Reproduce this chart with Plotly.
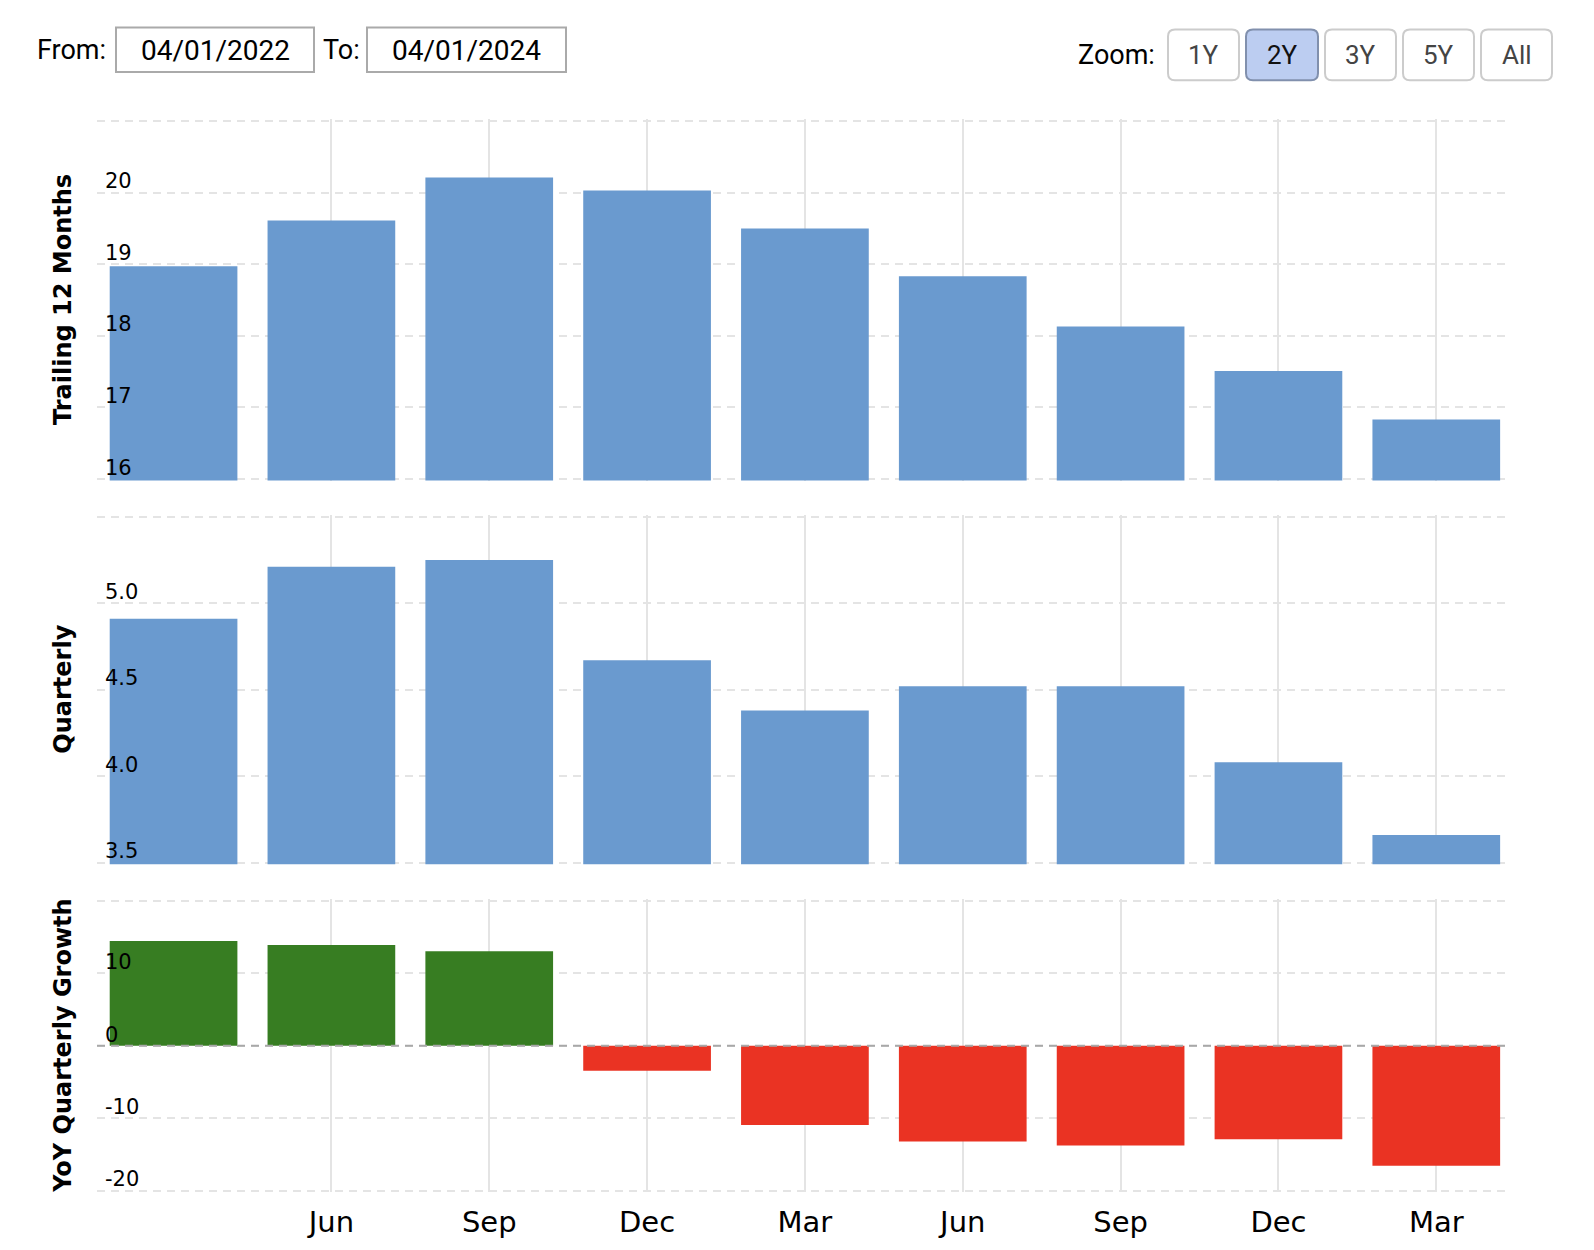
import plotly.graph_objects as go
from plotly.subplots import make_subplots

# ---------------- data ----------------
quarters = ["2022-03-31", "2022-06-30", "2022-09-30", "2022-12-31", "2023-03-31",
            "2023-06-30", "2023-09-30", "2023-12-31", "2024-03-31"]
month_labels = ["Mar", "Jun", "Sep", "Dec", "Mar", "Jun", "Sep", "Dec", "Mar"]
ttm = [18.97, 19.61, 20.21, 20.03, 19.50, 18.83, 18.13, 17.51, 16.83]
quarterly = [4.91, 5.21, 5.25, 4.67, 4.38, 4.52, 4.52, 4.08, 3.66]
yoy = [14.49, 13.93, 13.07, -3.44, -10.93, -13.19, -13.75, -12.90, -16.57]

ttm_ticks = [16, 17, 18, 19, 20, 21]
ttm_ticktext = ["16", "17", "18", "19", "20", ""]
q_ticks = [3.5, 4.0, 4.5, 5.0, 5.5]
q_ticktext = ["3.5", "4.0", "4.5", "5.0", ""]
yoy_ticks = [-20, -10, 0, 10, 20]
yoy_ticktext = ["-20", "-10", "0", "10", ""]

panel_titles = ["Trailing 12 Months", "Quarterly", "YoY Quarterly Growth"]
from_date = "04/01/2022"
to_date = "04/01/2024"
zoom_buttons = ["1Y", "2Y", "3Y", "5Y", "All"]
active_button = "2Y"

# ---------------- style ----------------
W, H = 1594, 1250
L, R, T, B = 97, 87, 119, 57
BLUE = "#6a9acf"
GREEN = "#377d22"
RED = "#ea3323"
GRID = "#e4e4e4"
TICKFONT = dict(family="DejaVu Sans, Verdana, sans-serif", size=21, color="#000")
XFONT = dict(family="DejaVu Sans, Verdana, sans-serif", size=29, color="#000")

PW, PH = W - L - R, H - T - B
EXT = 1.6  # px added at each end so edge gridlines are kept


def px(x):
    return (x - L) / PW


def py(y):
    return (H - B - y) / PH


fig = make_subplots(rows=3, cols=1, shared_xaxes=True)

fig.add_trace(go.Bar(x=quarters, y=ttm, marker=dict(color=BLUE, line=dict(width=0)),
                     hoverinfo="x+y"), row=1, col=1)
fig.add_trace(go.Bar(x=quarters, y=quarterly, marker=dict(color=BLUE, line=dict(width=0)),
                     hoverinfo="x+y"), row=2, col=1)
fig.add_trace(go.Bar(x=quarters, y=yoy,
                     marker=dict(color=[GREEN if v >= 0 else RED for v in yoy], line=dict(width=0)),
                     hoverinfo="x+y"), row=3, col=1)

# pixel extents of each panel (top, bottom) and value ranges
pix = [(121.0, 479.0), (516.7, 862.7), (901.0, 1190.7)]
vals = [(16, 21), (3.5, 5.5), (-20, 20)]
ticks = [(ttm_ticks, ttm_ticktext), (q_ticks, q_ticktext), (yoy_ticks, yoy_ticktext)]

for i in range(3):
    yname = "yaxis" if i == 0 else f"yaxis{i+1}"
    xname = "xaxis" if i == 0 else f"xaxis{i+1}"
    top, bot = pix[i]
    lo, hi = vals[i]
    upp = (hi - lo) / (bot - top)  # units per pixel
    fig.layout[yname].update(
        domain=[max(0.0, py(bot + EXT)), min(1.0, py(top - EXT))],
        range=[lo - EXT * upp, hi + EXT * upp],
        tickvals=ticks[i][0], ticktext=ticks[i][1],
        showgrid=True, gridcolor=GRID, gridwidth=2, griddash="8px,6px",
        zeroline=False, showline=False, ticks="",
        ticklabelposition="inside top", ticklabelstandoff=5, ticklabelshift=3,
        tickfont=TICKFONT, fixedrange=True,
    )
    fig.layout[xname].update(
        type="category", range=[-0.485, 8.448],
        tickvals=quarters[1:], ticktext=month_labels[1:],
        showgrid=True, gridcolor=GRID, gridwidth=2,
        zeroline=False, showline=False, ticks="",
        showticklabels=(i == 2), tickfont=XFONT, ticklabelstandoff=10,
        fixedrange=True,
    )

# zero line of the growth panel
fig.add_shape(type="line", xref="x3 domain", yref="y3", x0=0, x1=1, y0=0, y1=0,
              line=dict(color="#a8a8a8", width=2, dash="8px,6px"), layer="above")

# panel titles
for t, (top, bot) in zip(panel_titles, pix):
    fig.add_annotation(text=f"<b>{t}</b>", xref="paper", yref="paper", x=px(63), y=py((top + bot) / 2),
                       xanchor="center", yanchor="middle", textangle=-90, showarrow=False,
                       font=dict(family="DejaVu Sans, Verdana, sans-serif", size=24, color="#000"))

# ---- header: date range inputs ----
HFONT = dict(family="Roboto, sans-serif", size=27, color="#000")
DFONT = dict(family="Roboto, sans-serif", size=28, color="#000")
fig.add_annotation(text="From:", xref="paper", yref="paper", x=px(35), y=py(50),
                   xanchor="left", yanchor="middle", showarrow=False, font=HFONT)
fig.add_annotation(text="To:", xref="paper", yref="paper", x=px(321), y=py(50),
                   xanchor="left", yanchor="middle", showarrow=False, font=HFONT)
for (x0, x1), txt in [((116, 314), from_date), ((367, 566), to_date)]:
    fig.add_shape(type="rect", xref="paper", yref="paper", x0=px(x0), x1=px(x1),
                  y0=py(72), y1=py(27.5), line=dict(color="#aaaaaa", width=2),
                  fillcolor="white", layer="above")
    fig.add_annotation(text=txt, xref="paper", yref="paper", x=px((x0 + x1) / 2), y=py(50),
                       xanchor="center", yanchor="middle", showarrow=False, font=DFONT)

# ---- header: zoom buttons ----
fig.add_annotation(text="Zoom:", xref="paper", yref="paper", x=px(1076), y=py(55),
                   xanchor="left", yanchor="middle", showarrow=False, font=HFONT)
btn_x = [(1168, 1239), (1246, 1318), (1325, 1396), (1403, 1474), (1481, 1552)]
by0, by1, rad = 29.5, 80.3, 7


def rounded(x0, y0, x1, y1, r):
    X = lambda v: px(v)
    Y = lambda v: py(v)
    return (f"M {X(x0 + r)},{Y(y0)} L {X(x1 - r)},{Y(y0)} Q {X(x1)},{Y(y0)} {X(x1)},{Y(y0 + r)} "
            f"L {X(x1)},{Y(y1 - r)} Q {X(x1)},{Y(y1)} {X(x1 - r)},{Y(y1)} "
            f"L {X(x0 + r)},{Y(y1)} Q {X(x0)},{Y(y1)} {X(x0)},{Y(y1 - r)} "
            f"L {X(x0)},{Y(y0 + r)} Q {X(x0)},{Y(y0)} {X(x0 + r)},{Y(y0)} Z")


for (x0, x1), lab in zip(btn_x, zoom_buttons):
    active = lab == active_button
    fig.add_shape(type="path", xref="paper", yref="paper", path=rounded(x0, by0, x1, by1, rad),
                  fillcolor="#bccdf1" if active else "white",
                  line=dict(color="#8190ad" if active else "#cccccc", width=2), layer="above")
    fig.add_annotation(text=lab, xref="paper", yref="paper", x=px((x0 + x1) / 2), y=py(55),
                       xanchor="center", yanchor="middle", showarrow=False,
                       font=dict(family="Roboto, sans-serif", size=26,
                                 color="#111" if active else "#444"))

fig.update_layout(
    width=W, height=H, margin=dict(l=L, r=R, t=T, b=B, pad=0),
    plot_bgcolor="white", paper_bgcolor="white",
    showlegend=False, bargap=0.191,
    hovermode="closest",
)

fig.write_html("out.html", post_script="document.body.style.margin='0';",
               config={"displayModeBar": False})
